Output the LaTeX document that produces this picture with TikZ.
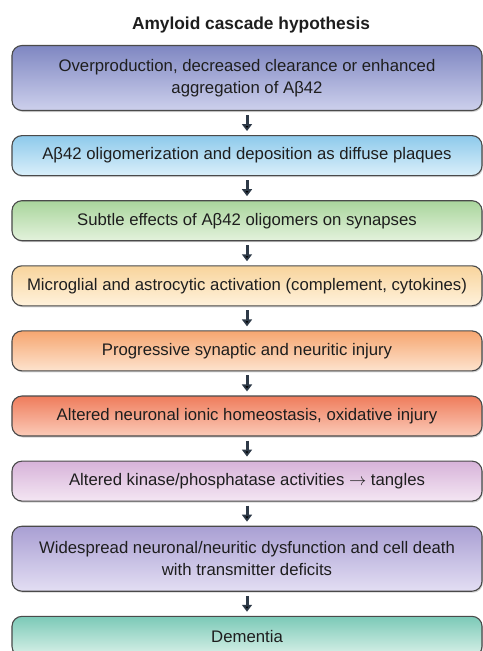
\documentclass[tikz,border=0pt]{standalone}
\usepackage{fontspec}
\setmainfont{Liberation Sans}
\usepackage{tikz}
\usetikzlibrary{arrows.meta,positioning,shadows}

\definecolor{edgec}{HTML}{4A4A4A}
\definecolor{arrc}{HTML}{2E3A48}
\definecolor{txtc}{HTML}{1E1E1E}
% top and bottom of each stage
\definecolor{c1t}{HTML}{7F87C2}\definecolor{c1b}{HTML}{CDD0EC}
\definecolor{c2t}{HTML}{8ECAEB}\definecolor{c2b}{HTML}{DAEFFA}
\definecolor{c3t}{HTML}{A9D59C}\definecolor{c3b}{HTML}{E3F2DC}
\definecolor{c4t}{HTML}{F8D49C}\definecolor{c4b}{HTML}{FFF2DC}
\definecolor{c5t}{HTML}{F6A670}\definecolor{c5b}{HTML}{FDE3CE}
\definecolor{c6t}{HTML}{EF7C5C}\definecolor{c6b}{HTML}{FBCBB8}
\definecolor{c7t}{HTML}{D7B3D9}\definecolor{c7b}{HTML}{F4E6F3}
\definecolor{c8t}{HTML}{A99FD3}\definecolor{c8b}{HTML}{E3DEF3}
\definecolor{c9t}{HTML}{7BC9B7}\definecolor{c9b}{HTML}{DAF1E9}

\begin{document}
\begin{tikzpicture}[x=1bp,y=-1bp]
      \tikzstyle{stage}=[rectangle,rounded corners=10bp,draw=edgec,line width=1.1bp,
        minimum width=470bp,minimum height=40bp,align=center,text=txtc,
        font=\fontsize{16.8}{22.5}\selectfont,
        drop shadow={shadow xshift=1bp,shadow yshift=-1.5bp,opacity=0.35}]
      \tikzstyle{tall}=[minimum height=65bp]
      \tikzstyle{flow}=[-{Triangle[length=7bp,width=10bp]},line width=3bp,draw=arrc,
        shorten >=4bp,shorten <=4bp]

      \useasboundingbox (0,0) rectangle (483,651);

      \node[font=\fontsize{17.4}{20}\selectfont\bfseries,text=txtc](title) at (251,25){Amyloid cascade hypothesis};

      \node[stage,tall,top color=c1t,bottom color=c1b](stage1) at (247,78)
        {Overproduction, decreased clearance or enhanced\\aggregation of Aβ42};
      \node[stage,top color=c2t,bottom color=c2b,below=24bp of stage1](stage2)
        {Aβ42 oligomerization and deposition as diffuse plaques};
      \node[stage,top color=c3t,bottom color=c3b,below=24bp of stage2](stage3)
        {Subtle effects of Aβ42 oligomers on synapses};
      \node[stage,top color=c4t,bottom color=c4b,below=24bp of stage3](stage4)
        {Microglial and astrocytic activation (complement, cytokines)};
      \node[stage,top color=c5t,bottom color=c5b,below=24bp of stage4](stage5)
        {Progressive synaptic and neuritic injury};
      \node[stage,top color=c6t,bottom color=c6b,below=24bp of stage5](stage6)
        {Altered neuronal ionic homeostasis, oxidative injury};
      \node[stage,top color=c7t,bottom color=c7b,below=24bp of stage6](stage7)
        {Altered kinase/phosphatase activities $\rightarrow$ tangles};
      \node[stage,tall,top color=c8t,bottom color=c8b,below=24bp of stage7](stage8)
        {Widespread neuronal/neuritic dysfunction and cell death\\with transmitter deficits};
      \node[stage,top color=c9t,bottom color=c9b,below=24bp of stage8](stage9)
        {Dementia};

      \path[flow]
      (stage1) edge (stage2)
      (stage2) edge (stage3)
      (stage3) edge (stage4)
      (stage4) edge (stage5)
      (stage5) edge (stage6)
      (stage6) edge (stage7)
      (stage7) edge (stage8)
      (stage8) edge (stage9);
\end{tikzpicture}
\end{document}
